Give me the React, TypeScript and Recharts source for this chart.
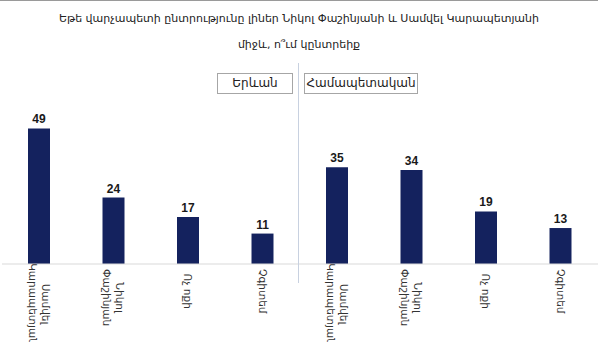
import { BarChart, Bar, XAxis, YAxis, LabelList } from "recharts";

const categories = [
  "Սամվել\nԿարապետյան",
  "Նիկոլ\nՓաշինյան",
  "Ոչ ոքի",
  "Չգիտեմ",
  "Սամվել\nԿարապետյան",
  "Նիկոլ\nՓաշինյան",
  "Ոչ ոքի",
  "Չգիտեմ",
];
const values = [49, 24, 17, 11, 35, 34, 19, 13];
const groups = ["Երևան", "Համապետական"];
const titleLines = [
  "Եթե վարչապետի ընտրությունը լիներ Նիկոլ Փաշինյանի և Սամվել Կարապետյանի",
  "միջև, ո՞ւմ կընտրեիք",
];

const data = categories.map((name, i) => ({ key: `${i}`, name, value: values[i] }));

const FONT = "'DejaVu Sans', sans-serif";
const BAR = "#14225e";

function CategoryTick(props: any) {
  const { x, y, payload } = props;
  const idx = Number(payload.value);
  const lines = categories[idx].split("\n");
  const maxLen = Math.max(...lines.map((l) => l.length)) * 6.4;
  const center = 8 + maxLen / 2;
  const step = 13;
  const offset = ((lines.length - 1) * step) / 2;
  return (
    <g transform={`translate(${x},${y})`}>
      <text
        transform="rotate(90)"
        textAnchor="middle"
        dominantBaseline="central"
        fontSize={10.5}
        fontFamily={FONT}
        fill="#333"
      >
        {lines.map((l, i) => (
          <tspan key={i} x={center} y={-offset + i * step}>
            {l}
          </tspan>
        ))}
      </text>
    </g>
  );
}

export default function App() {
  return (
    <div
      style={{
        position: "absolute",
        left: 0,
        top: 0,
        width: 598,
        height: 342,
        background: "#fff",
        overflow: "hidden",
        fontFamily: FONT,
      }}
    >
      <div style={{ position: "absolute", left: 0, top: 0, width: 598, height: 1, background: "#9a9a9a" }} />
      <div
        style={{
          position: "absolute",
          left: 0,
          top: 6,
          width: 598,
          textAlign: "center",
          fontSize: 11,
          lineHeight: "26px",
          color: "#222",
        }}
      >
        {titleLines.map((t) => (
          <div key={t}>{t}</div>
        ))}
      </div>
      <BarChart
        width={598}
        height={342}
        data={data}
        margin={{ top: 98, right: 0, bottom: 0, left: 2 }}
        barCategoryGap={0}
      >
        <YAxis hide domain={[0, 60]} />
        <XAxis
          dataKey="key"
          height={78}
          interval={0}
          tickLine={false}
          tickSize={0}
          tickMargin={0}
          axisLine={{ stroke: "#d9d9d9" }}
          tick={<CategoryTick />}
        />
        <Bar dataKey="value" fill={BAR} barSize={22} isAnimationActive={false}>
          <LabelList
            dataKey="value"
            position="top"
            offset={5}
            style={{ fontSize: 12, fontWeight: 700, fill: "#1a1a1a", fontFamily: "'Liberation Sans', sans-serif" }}
          />
        </Bar>
      </BarChart>
      <div style={{ position: "absolute", left: 298, top: 63, width: 1, height: 220, background: "#c8d1e0" }} />
      {groups.map((g, i) => (
        <div
          key={g}
          style={{
            position: "absolute",
            left: i === 0 ? 217 : 304,
            top: 73,
            width: i === 0 ? 76 : 114,
            height: 21,
            boxSizing: "border-box",
            border: "1px solid #a6a6a6",
            fontSize: 12,
            lineHeight: "19px",
            textAlign: "center",
            color: "#222",
            background: "#fff",
          }}
        >
          {g}
        </div>
      ))}
    </div>
  );
}
